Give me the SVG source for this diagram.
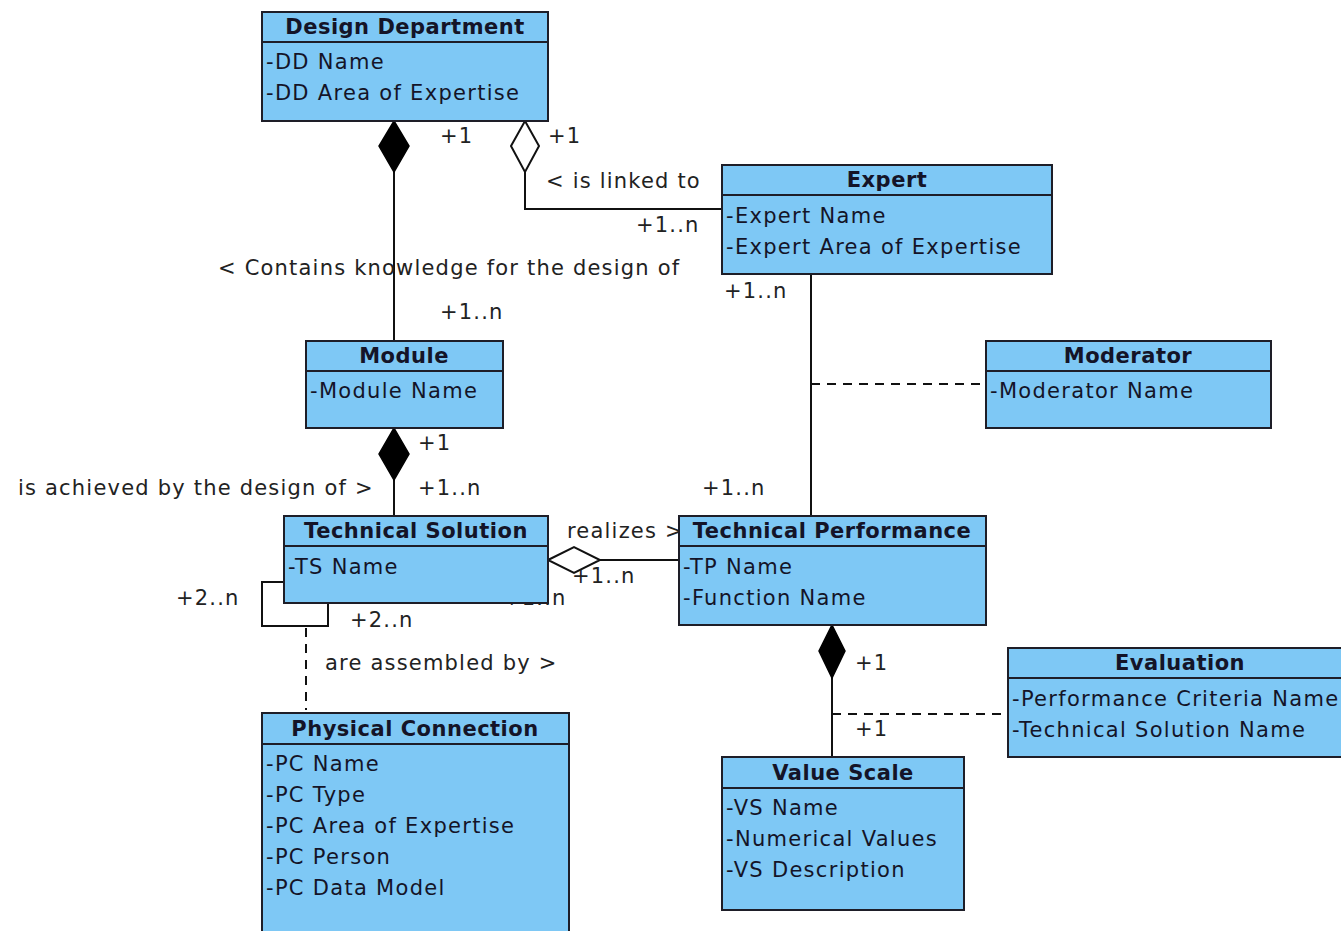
<svg xmlns="http://www.w3.org/2000/svg" width="1341" height="931" viewBox="0 0 1341 931">
<style>
.box{fill:#7ec8f5;stroke:#1e1e28;stroke-width:2}
.sep{stroke:#1e1e28;stroke-width:2}
.title{font-family:"DejaVu Sans",sans-serif;font-size:21px;font-weight:bold;fill:#141428;text-anchor:middle;letter-spacing:0.5px}
.attr{font-family:"DejaVu Sans",sans-serif;font-size:21px;fill:#141428;letter-spacing:1.3px}
.lbl{font-family:"DejaVu Sans",sans-serif;font-size:21px;fill:#222;letter-spacing:1.2px}
.ln{fill:none;stroke:#111;stroke-width:2}
.dash{fill:none;stroke:#111;stroke-width:2;stroke-dasharray:9,7}
.fd{fill:#000;stroke:#000;stroke-width:1.5}
.hd{fill:#fff;stroke:#111;stroke-width:2}
</style>
<rect width="1341" height="931" fill="#fff"/>
<g id="connectors">
<path class="ln" d="M394 172V341"/>
<polygon class="fd" points="394,121 409,146 394,172 379,146"/>
<path class="ln" d="M525 172V209H722"/>
<polygon class="hd" points="525,121 539,146 525,172 511,146"/>
<path class="ln" d="M811 274V516"/>
<path class="dash" d="M811 384H986"/>
<path class="ln" d="M394 480V516"/>
<polygon class="fd" points="394,428 409,454 394,480 379,454"/>
<path class="ln" d="M600 560H679"/>
<polygon class="hd" points="548,560 574,547 600,560 574,573"/>
<path class="ln" d="M284 582H262V626H328V603"/>
<path class="dash" d="M306 628V710"/>
<path class="ln" d="M832 678V757"/>
<polygon class="fd" points="832,625 845,651 832,678 819,651"/>
<path class="dash" d="M832 714H1008"/>
<text class="lbl" x="440" y="143">+1</text>
<text class="lbl" x="548" y="143">+1</text>
<text class="lbl" x="546" y="188">&lt; is linked to</text>
<text class="lbl" x="636" y="232">+1..n</text>
<text class="lbl" x="218" y="275">&lt; Contains knowledge for the design of</text>
<text class="lbl" x="440" y="319">+1..n</text>
<text class="lbl" x="724" y="298">+1..n</text>
<text class="lbl" x="702" y="495">+1..n</text>
<text class="lbl" x="418" y="450">+1</text>
<text class="lbl" x="418" y="495">+1..n</text>
<text class="lbl" x="18" y="495">is achieved by the design of &gt;</text>
<text class="lbl" x="567" y="538">realizes &gt;</text>
<text class="lbl" x="572" y="583">+1..n</text>
<text class="lbl" x="503" y="605">+1..n</text>
<text class="lbl" x="176" y="605">+2..n</text>
<text class="lbl" x="350" y="627">+2..n</text>
<text class="lbl" x="325" y="670">are assembled by &gt;</text>
<text class="lbl" x="855" y="670">+1</text>
<text class="lbl" x="855" y="736">+1</text>
</g>
<g id="design-department">
<rect class="box" x="262" y="12" width="286" height="109"/>
<line class="sep" x1="262" y1="42" x2="548" y2="42"/>
<text class="title" x="405" y="34">Design Department</text>
<text class="attr" x="266" y="69">-DD Name</text>
<text class="attr" x="266" y="100">-DD Area of Expertise</text>
</g>
<g id="expert">
<rect class="box" x="722" y="165" width="330" height="109"/>
<line class="sep" x1="722" y1="195" x2="1052" y2="195"/>
<text class="title" x="887" y="187">Expert</text>
<text class="attr" x="726" y="223">-Expert Name</text>
<text class="attr" x="726" y="254">-Expert Area of Expertise</text>
</g>
<g id="module">
<rect class="box" x="306" y="341" width="197" height="87"/>
<line class="sep" x1="306" y1="371" x2="503" y2="371"/>
<text class="title" x="404" y="363">Module</text>
<text class="attr" x="310" y="398">-Module Name</text>
</g>
<g id="moderator">
<rect class="box" x="986" y="341" width="285" height="87"/>
<line class="sep" x1="986" y1="371" x2="1271" y2="371"/>
<text class="title" x="1128" y="363">Moderator</text>
<text class="attr" x="990" y="398">-Moderator Name</text>
</g>
<g id="technical-solution">
<rect class="box" x="284" y="516" width="264" height="87"/>
<line class="sep" x1="284" y1="546" x2="548" y2="546"/>
<text class="title" x="416" y="538">Technical Solution</text>
<text class="attr" x="288" y="574">-TS Name</text>
</g>
<g id="technical-performance">
<rect class="box" x="679" y="516" width="307" height="109"/>
<line class="sep" x1="679" y1="546" x2="986" y2="546"/>
<text class="title" x="832" y="538">Technical Performance</text>
<text class="attr" x="683" y="574">-TP Name</text>
<text class="attr" x="683" y="605">-Function Name</text>
</g>
<g id="evaluation">
<rect class="box" x="1008" y="648" width="344" height="109"/>
<line class="sep" x1="1008" y1="678" x2="1352" y2="678"/>
<text class="title" x="1180" y="670">Evaluation</text>
<text class="attr" x="1012" y="706">-Performance Criteria Name</text>
<text class="attr" x="1012" y="737">-Technical Solution Name</text>
</g>
<g id="value-scale">
<rect class="box" x="722" y="757" width="242" height="153"/>
<line class="sep" x1="722" y1="788" x2="964" y2="788"/>
<text class="title" x="843" y="780">Value Scale</text>
<text class="attr" x="726" y="815">-VS Name</text>
<text class="attr" x="726" y="846">-Numerical Values</text>
<text class="attr" x="726" y="877">-VS Description</text>
</g>
<g id="physical-connection">
<rect class="box" x="262" y="713" width="307" height="230"/>
<line class="sep" x1="262" y1="744" x2="569" y2="744"/>
<text class="title" x="415" y="736">Physical Connection</text>
<text class="attr" x="266" y="771">-PC Name</text>
<text class="attr" x="266" y="802">-PC Type</text>
<text class="attr" x="266" y="833">-PC Area of Expertise</text>
<text class="attr" x="266" y="864">-PC Person</text>
<text class="attr" x="266" y="895">-PC Data Model</text>
</g>
</svg>
